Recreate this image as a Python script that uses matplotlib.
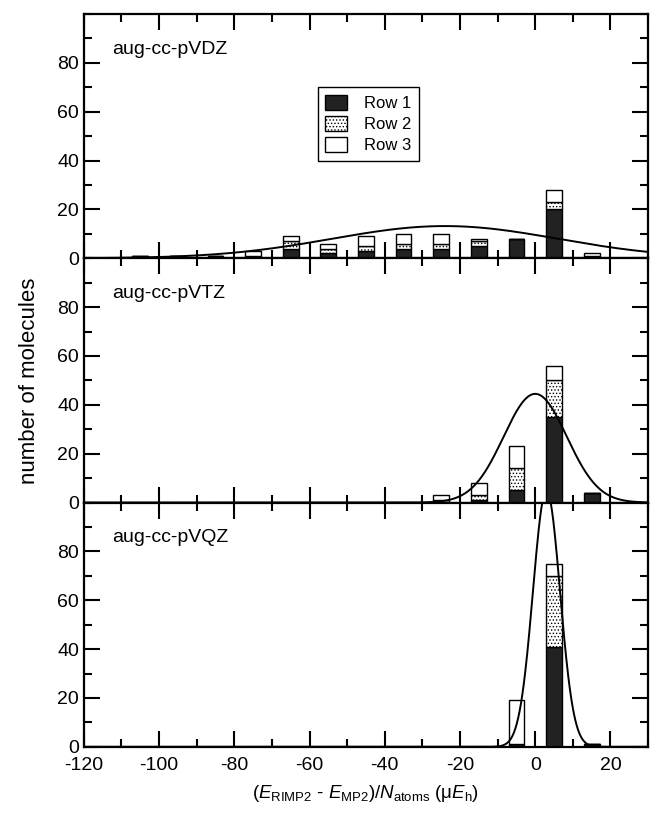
import matplotlib
matplotlib.use("Agg")
import matplotlib.pyplot as plt
from matplotlib.patches import Patch
from matplotlib.ticker import MultipleLocator
import numpy as np

#// fonts: Arial-like everywhere, mathtext too
plt.rcParams['font.family'] = ['Liberation Sans', 'DejaVu Sans']
plt.rcParams['mathtext.fontset'] = 'custom'
plt.rcParams['mathtext.rm'] = 'Liberation Sans'
plt.rcParams['mathtext.it'] = 'Liberation Sans:italic'
plt.rcParams['axes.unicode_minus'] = False
plt.rcParams['hatch.linewidth'] = 0.6

#// bin centres (width 10 uEh)
bins = [-105, -95, -85, -75, -65, -55, -45, -35, -25, -15, -5, 5, 15]

#// aug-cc-pVDZ counts
vdz_row1 = [1, 1, 1, 1, 4, 2, 3, 4, 4, 5, 8, 20, 0]
vdz_row2 = [0, 0, 0, 0, 3, 2, 2, 2, 2, 2, 0, 3, 1]
vdz_row3 = [0, 0, 0, 2, 2, 2, 4, 4, 4, 1, 0, 5, 1]

#// aug-cc-pVTZ counts
vtz_row1 = [0, 0, 0, 0, 0, 0, 0, 0, 0, 1, 5, 35, 4]
vtz_row2 = [0, 0, 0, 0, 0, 0, 0, 0, 1, 2, 9, 15, 0]
vtz_row3 = [0, 0, 0, 0, 0, 0, 0, 0, 2, 5, 9, 6, 0]

#// aug-cc-pVQZ counts
vqz_row1 = [0, 0, 0, 0, 0, 0, 0, 0, 0, 0, 1, 41, 1]
vqz_row2 = [0, 0, 0, 0, 0, 0, 0, 0, 0, 0, 0, 29, 0]
vqz_row3 = [0, 0, 0, 0, 0, 0, 0, 0, 0, 0, 18, 5, 0]

basis_names = ["aug-cc-pVDZ", "aug-cc-pVTZ", "aug-cc-pVQZ"]

#// normal-distribution fit drawn over each histogram (mean, sigma, peak height)
fit_mean = [-24, 0, 3]
fit_sigma = [30, 8.4, 3.6]
fit_peak = [13.2, 44.5, 105]

xticks = [-120, -100, -80, -60, -40, -20, 0, 20]
yticks = [0, 20, 40, 60, 80]

panels = [(vdz_row1, vdz_row2, vdz_row3),
          (vtz_row1, vtz_row2, vtz_row3),
          (vqz_row1, vqz_row2, vqz_row3)]

row_styles = [dict(facecolor="#222222", hatch=None),
              dict(facecolor="white", hatch="....."),
              dict(facecolor="white", hatch=None)]

fig, axes = plt.subplots(3, 1, figsize=(6.5, 8.27), dpi=100, sharex=True)
fig.subplots_adjust(left=0.129, right=0.997, top=0.983, bottom=0.097, hspace=0)

xs = np.linspace(-120, 30, 800)

for i, ax in enumerate(axes):
    r1, r2, r3 = [np.array(r) for r in panels[i]]
    bottoms = [np.zeros(len(bins)), r1, r1 + r2]
    for vals, bot, st in zip([r1, r2, r3], bottoms, row_styles):
        ax.bar(bins, vals, width=4.2, bottom=bot, color=st["facecolor"],
               hatch=st["hatch"], edgecolor="black", linewidth=1.0, zorder=2)

    #// fitted gaussian
    curve = fit_peak[i] * np.exp(-(xs - fit_mean[i]) ** 2 / (2 * fit_sigma[i] ** 2))
    ax.plot(xs, curve, color="black", linewidth=1.4, zorder=3)

    ax.set_xlim(-120, 30)
    ax.set_ylim(0, 100)
    ax.set_xticks(xticks)
    ax.set_yticks(yticks)
    ax.xaxis.set_minor_locator(MultipleLocator(10))
    ax.yaxis.set_minor_locator(MultipleLocator(10))
    ax.tick_params(which="both", direction="in", top=True, right=True,
                   width=1.5, labelsize=14)
    ax.tick_params(which="major", length=11.5)
    ax.tick_params(which="minor", length=6)
    ax.tick_params(axis="x", pad=7.5)
    for sp in ax.spines.values():
        sp.set_linewidth(1.6)

    ax.text(0.05, 0.855, basis_names[i], transform=ax.transAxes,
            fontsize=14, va="center", ha="left")

axes[0].tick_params(labelbottom=False)
axes[1].tick_params(labelbottom=False)

handles = [Patch(facecolor=st["facecolor"], hatch=st["hatch"], edgecolor="black",
                 linewidth=1.0) for st in row_styles]
axes[0].legend(handles, ["Row 1", "Row 2", "Row 3"], loc="upper left",
               bbox_to_anchor=(0.40, 0.735), fontsize=12, frameon=True,
               fancybox=False, edgecolor="black", framealpha=1,
               handlelength=1.3, handleheight=1.0, borderpad=0.45,
               labelspacing=0.3, handletextpad=1.0)
axes[0].get_legend().get_frame().set_linewidth(1.0)

axes[1].set_ylabel("number of molecules", fontsize=16, labelpad=12)
axes[2].set_xlabel(r"$(E_{\mathrm{RIMP2}}$ - $E_{\mathrm{MP2}})/N_{\mathrm{atoms}}$ ($\mathrm{\mu}E_{\mathrm{h}}$)",
                   fontsize=13.5, labelpad=6)

plt.savefig("out.png", dpi=100)
